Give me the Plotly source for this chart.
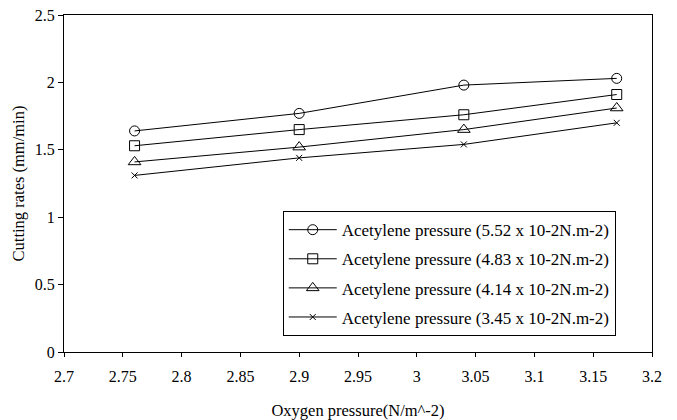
import plotly.graph_objects as go

oxygen = [2.76, 2.90, 3.04, 3.17]
series_names = [
    "Acetylene pressure (5.52 x 10-2N.m-2)",
    "Acetylene pressure (4.83 x 10-2N.m-2)",
    "Acetylene pressure (4.14 x 10-2N.m-2)",
    "Acetylene pressure (3.45 x 10-2N.m-2)",
]
rate_552 = [1.64, 1.77, 1.98, 2.03]
rate_483 = [1.53, 1.65, 1.76, 1.91]
rate_414 = [1.41, 1.52, 1.65, 1.81]
rate_345 = [1.31, 1.44, 1.54, 1.70]

series_values = [rate_552, rate_483, rate_414, rate_345]
symbols = ["circle-open", "square-open", "triangle-up-open", "x-thin-open"]
sizes = [10, 10, 11, 6]

FONT = "Liberation Serif"

fig = go.Figure()
for i, (name, vals) in enumerate(zip(series_names, series_values)):
    fig.add_trace(go.Scatter(
        x=oxygen, y=vals, name=name, mode="lines+markers",
        line=dict(color="black", width=1),
        marker=dict(symbol=symbols[i], size=sizes[i], color="black",
                    line=dict(color="black", width=1)),
        legendgroup=f"g{i}",
    ))

fig.update_layout(
    width=677, height=420,
    margin=dict(l=64, r=25, t=15, b=68),
    paper_bgcolor="white", plot_bgcolor="white",
    font=dict(family=FONT, size=16, color="black"),
    legend=dict(
        x=0.372, y=0.418, xanchor="left", yanchor="top",
        bordercolor="black", borderwidth=1, bgcolor="white",
        font=dict(family=FONT, size=17, color="black"),
        traceorder="grouped", tracegroupgap=4,
        itemwidth=48,
    ),
    xaxis=dict(
        range=[2.7, 3.2], tick0=2.7, dtick=0.05,
        showline=True, linecolor="black", linewidth=1, mirror=True,
        ticks="outside", ticklen=4, tickcolor="black",
        ticklabelstandoff=6, automargin=False,
        showgrid=False, zeroline=False,
        tickfont=dict(family=FONT, size=16),
        title=dict(text="Oxygen pressure(N/m^-2)", standoff=20,
                   font=dict(family=FONT, size=16.5)),
    ),
    yaxis=dict(
        range=[0, 2.5], tick0=0, dtick=0.5,
        showline=True, linecolor="black", linewidth=1, mirror=True,
        ticks="outside", ticklen=5, tickcolor="black",
        automargin=False,
        showgrid=False, zeroline=False,
        tickfont=dict(family=FONT, size=16),
        title=dict(text="Cutting rates (mm/min)", standoff=6,
                   font=dict(family=FONT, size=16.5)),
    ),
)

fig.write_html("out.html")
